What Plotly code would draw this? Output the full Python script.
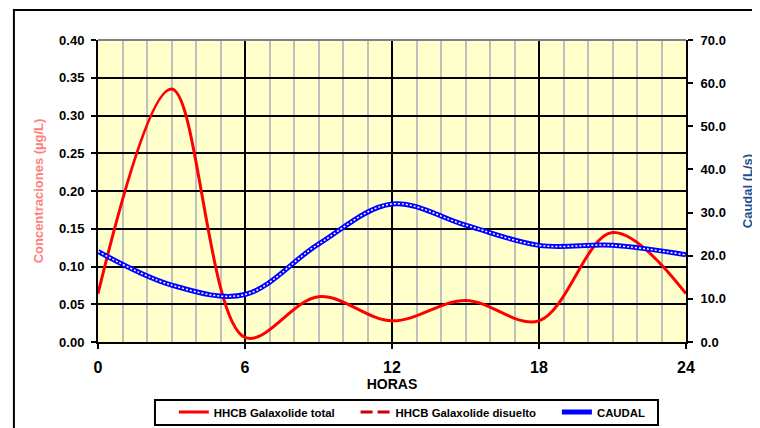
import plotly.graph_objects as go

# datos
horas = [0, 3, 6, 9, 12, 15, 18, 21, 24]
hhcb_total = [0.064, 0.335, 0.006, 0.060, 0.028, 0.055, 0.028, 0.145, 0.064]
hhcb_disuelto = [None, None, None, None, None, None, None, None, None]
caudal = [21.0, 13.2, 11.0, 22.7, 32.0, 27.1, 22.4, 22.4, 20.2]

FUENTE = "Liberation Sans, Arial, sans-serif"
ESP = "\u00a0" * 5  # separacion entre entradas de la leyenda

fig = go.Figure()

# =========================
# SERIES
# =========================

fig.add_trace(go.Scatter(
    x=horas, y=hhcb_total, name="HHCB Galaxolide total" + ESP,
    mode="lines", line=dict(color="#FF0000", width=3, shape="spline", smoothing=1.0)
))

fig.add_trace(go.Scatter(
    x=horas, y=hhcb_disuelto, name="HHCB Galaxolide disuelto" + ESP,
    mode="lines", line=dict(color="#CC0000", width=3, dash="12px,5px")
))

fig.add_trace(go.Scatter(
    x=horas, y=caudal, name="CAUDAL", yaxis="y2",
    mode="lines", line=dict(color="#0000FF", width=5, shape="spline", smoothing=1.0)
))

fig.add_trace(go.Scatter(
    x=horas, y=caudal, yaxis="y2", showlegend=False, hoverinfo="skip",
    mode="lines", line=dict(color="white", width=1.5, dash="2px,2px", shape="spline", smoothing=1.0)
))

# =========================
# EJES
# =========================

fig.update_layout(
    width=760, height=428,
    margin=dict(l=90, r=82, t=32, b=94, pad=0, autoexpand=False),
    paper_bgcolor="white",
    plot_bgcolor="#FFFFCC",
    font=dict(family=FUENTE, size=13, color="black", weight="bold"),
    showlegend=True,
    legend=dict(
        orientation="h", x=0.129, xanchor="left", y=-0.232, yanchor="middle",
        borderwidth=0, bgcolor="rgba(0,0,0,0)",
        font=dict(size=11.4, weight="bold"), itemwidth=30,
    ),
    xaxis=dict(
        range=[0, 24], tickvals=[0, 6, 12, 18, 24], automargin=False,
        showline=True, linecolor="black", linewidth=2,
        ticks="outside", ticklen=5, tickwidth=2, tickcolor="black",
        tickfont=dict(size=16, weight="bold"), ticklabelstandoff=5,
        showgrid=True, gridcolor="black", gridwidth=2,
        minor=dict(dtick=1, showgrid=True, gridcolor="#C0C0C0", gridwidth=2),
        zeroline=False,
        title=dict(text="HORAS", font=dict(size=14, weight="bold"), standoff=0),
    ),
    yaxis=dict(
        range=[0, 0.4], dtick=0.05, tickformat=".2f", automargin=False,
        showline=True, linecolor="black", linewidth=2,
        ticks="outside", ticklen=5, tickwidth=2, tickcolor="black",
        ticklabelstandoff=4,
        showgrid=True, gridcolor="black", gridwidth=2, zeroline=False,
        title=dict(text="Concentraciones (µg/L)", font=dict(size=13, color="#FF8080", weight="bold"), standoff=13),
    ),
    yaxis2=dict(
        range=[0, 70], dtick=10, tickformat=".1f", overlaying="y", side="right",
        automargin=False,
        showline=True, linecolor="black", linewidth=2,
        ticks="outside", ticklen=5, tickwidth=2, tickcolor="black",
        ticklabelstandoff=5,
        showgrid=False, zeroline=False,
        title=dict(text="Caudal (L/s)", font=dict(size=13, color="#1F4E8C", weight="bold"), standoff=18),
    ),
)

# marco exterior, borde superior y recuadro de la leyenda
fig.add_shape(type="rect", xref="paper", yref="paper",
              x0=-0.143, x1=1.15, y0=-0.32, y1=1.099,
              line=dict(color="black", width=2), layer="below")
fig.add_shape(type="line", xref="paper", yref="paper",
              x0=0, x1=1, y0=1, y1=1,
              line=dict(color="#808080", width=2))
fig.add_shape(type="rect", xref="paper", yref="paper",
              x0=0.0969, x1=0.9524, y0=-0.2748, y1=-0.192,
              line=dict(color="black", width=2), layer="below")

fig.write_html("out.html")
